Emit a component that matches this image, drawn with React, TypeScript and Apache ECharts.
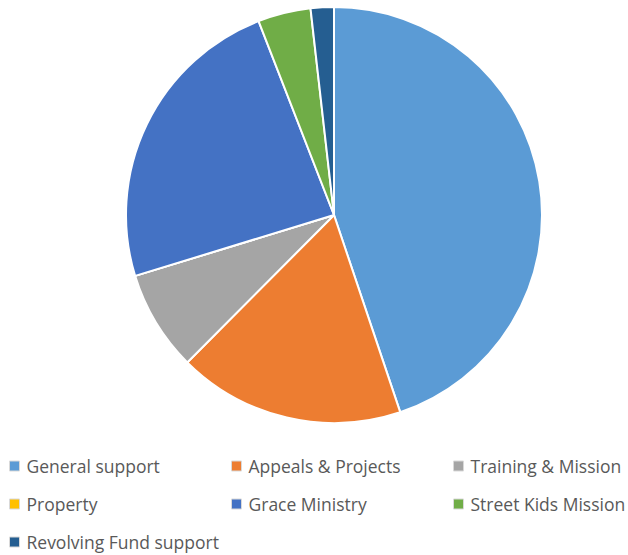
import React, { useEffect, useRef } from "react";
import * as echarts from "echarts";

const categories = [
  "General support",
  "Appeals & Projects",
  "Training & Mission",
  "Property",
  "Grace Ministry",
  "Street Kids Mission",
  "Revolving Fund support",
];
const values = [44.8, 17.6, 7.8, 0, 23.8, 4.1, 1.8];
const colors = ["#5B9BD5", "#ED7D31", "#A5A5A5", "#FFC000", "#4472C4", "#70AD47", "#255E91"];

export default function App() {
  const ref = useRef<HTMLDivElement>(null);
  useEffect(() => {
    if (!ref.current) return;
    const chart = echarts.init(ref.current, null, { renderer: "svg" });
    const colX = [9, 231, 453];
    const rowY = [466, 504, 542];
    const legends = categories.map((name, i) => ({
      data: [name],
      left: colX[i % 3],
      top: rowY[Math.floor(i / 3)] - 11,
      orient: "horizontal",
      icon: "rect",
      itemWidth: 10,
      itemHeight: 10,
      itemGap: 0,
      selectedMode: false,
      padding: 0,
      itemStyle: { borderColor: "#D9D9D9", borderWidth: 1 },
      textStyle: {
        fontFamily: "Open Sans",
        fontSize: 17.5,
        color: "#595959",
        lineHeight: 22,
        padding: [0, 0, 0, 2],
      },
    }));
    chart.setOption({
      animation: false,
      color: colors,
      legend: legends,
      series: [
        {
          type: "pie",
          center: [334, 215],
          radius: [0, 208],
          startAngle: 90,
          clockwise: true,
          label: { show: false },
          labelLine: { show: false },
          itemStyle: { borderColor: "#FFFFFF", borderWidth: 2 },
          data: categories.map((name, i) => ({ name, value: values[i] })),
        },
      ],
    });
    return () => chart.dispose();
  }, []);
  return (
    <div
      ref={ref}
      style={{ position: "fixed", left: 0, top: 0, width: 628, height: 555, background: "#fff" }}
    />
  );
}
